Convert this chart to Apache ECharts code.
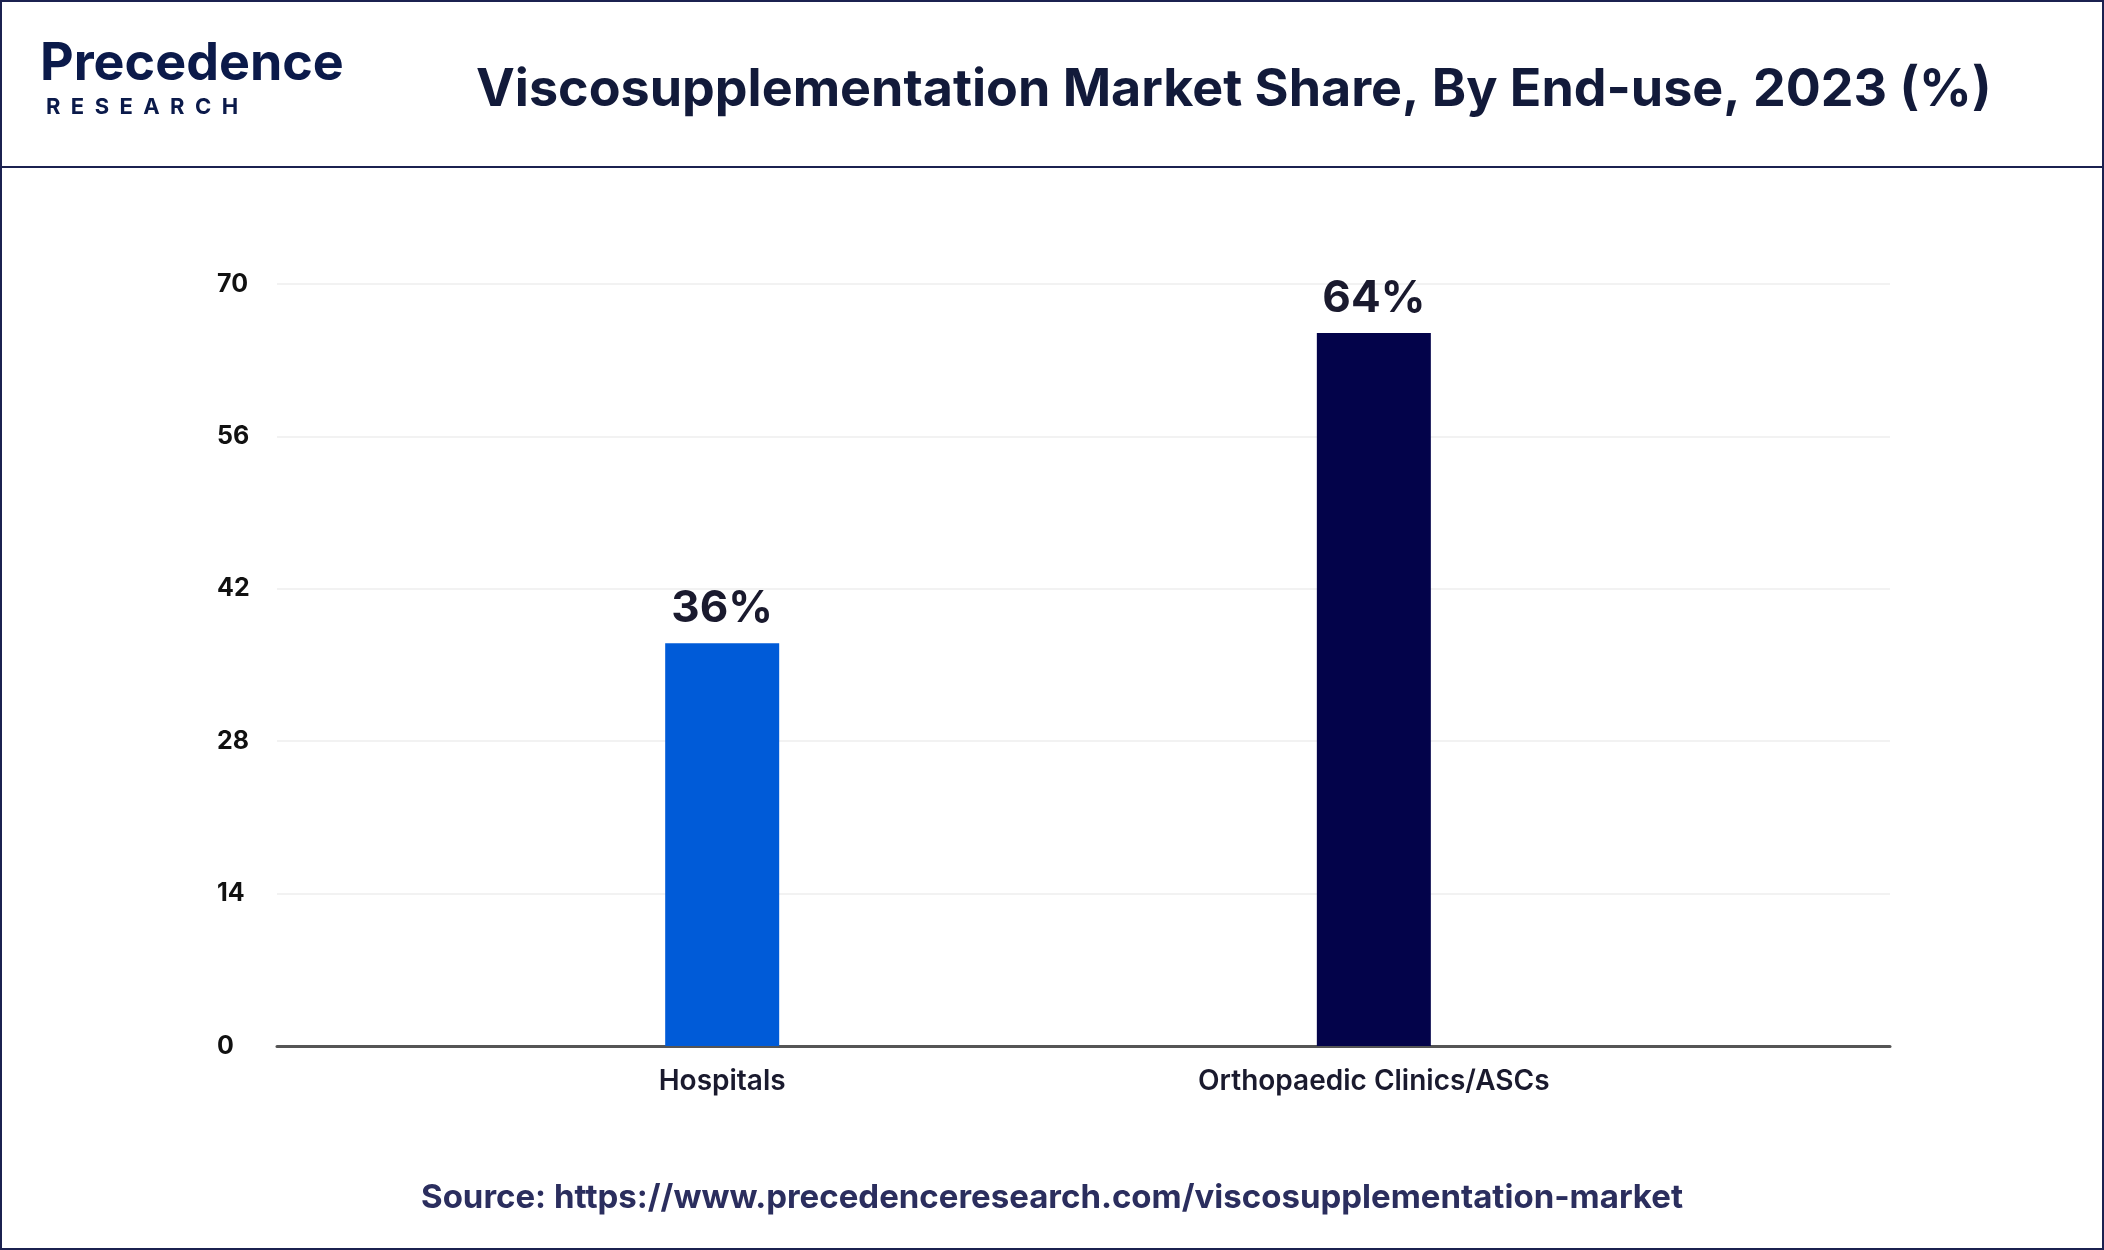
<!DOCTYPE html>
<html>
<head>
<meta charset="utf-8">
<script src="https://cdn.jsdelivr.net/npm/echarts@6/dist/echarts.min.js"></script>
<style>
html,body{margin:0;padding:0;background:#fff}
#main{width:2104px;height:1250px;box-sizing:border-box;border:2px solid #1b2150}
</style>
</head>
<body>
<div id="main"></div>
<script>
// data
var categories = ['Hospitals', 'Orthopaedic Clinics/ASCs']
var positions = [27.6, 68]          // where each bar sits along the x axis (0-100)
var barHeights = [37, 65.5]         // drawn height on the 0-70 scale
var barLabels = ['36%', '64%']
var barColors = ['#005bd8', '#03034a']
var yTicks = [0, 14, 28, 42, 56, 70]

var chart = echarts.init(document.getElementById('main'))

var seriesData = []
for (var i = 0; i < categories.length; i++){
    seriesData.push({
        value: [positions[i], barHeights[i]],
        itemStyle: {color: barColors[i]},
        label: {formatter: barLabels[i]}
    })
}

var option = {
    animation: false,
    textStyle: {fontFamily: 'Inter'},
    graphic: [
        {type: 'line', shape: {x1: 0, y1: 165, x2: 2104, y2: 165}, style: {stroke: '#1b2150', lineWidth: 2}},
        {type: 'text', left: 38, top: 36, style: {text: 'Precedence', font: 'bold 52px Inter', fill: '#0b1a4a'}},
        {type: 'text', left: 44, top: 94, style: {text: 'R  E  S  E  A  R  C  H', font: 'bold 22px Inter', fill: '#0b1a4a'}},
        {type: 'text', left: 474, top: 62, style: {text: 'Viscosupplementation Market Share, By End-use, 2023 (%)', font: 'bold 52px Inter', fill: '#121a3a'}},
        {type: 'text', left: 'center', top: 1180, style: {text: 'Source: https://www.precedenceresearch.com/viscosupplementation-market', font: 'bold 33px Inter', fill: '#2b2e5e'}}
    ],
    grid: {left: 275, right: 212, top: 282, bottom: 202},
    xAxis: {
        type: 'value', min: 0, max: 100,
        splitLine: {show: false},
        axisLine: {show: true, lineStyle: {color: '#555', width: 3}},
        axisTick: {show: false},
        axisLabel: {
            customValues: positions,
            margin: 22,
            fontSize: 28, fontWeight: 600, color: '#1a1a2e',
            formatter: function(v){
                var k = positions.indexOf(v)
                return k >= 0 ? categories[k] : ''
            }
        }
    },
    yAxis: {
        type: 'value', min: 0, max: 70, interval: 14,
        axisLine: {show: false},
        axisTick: {show: false},
        splitLine: {lineStyle: {color: '#f2f2f2', width: 2}},
        axisLabel: {fontSize: 25, fontWeight: 'bold', color: '#111', margin: 60, align: 'left', padding: [6, 0, 0, 0],
            formatter: function(v){ return yTicks.indexOf(v) >= 0 ? String(v) : '' }}
    },
    series: [{
        type: 'bar',
        barWidth: 114,
        data: seriesData,
        label: {show: true, position: 'top', distance: 12, fontSize: 44, fontWeight: 'bold', color: '#1a1a2e'}
    }]
}
chart.setOption(option)
</script>
</body>
</html>
